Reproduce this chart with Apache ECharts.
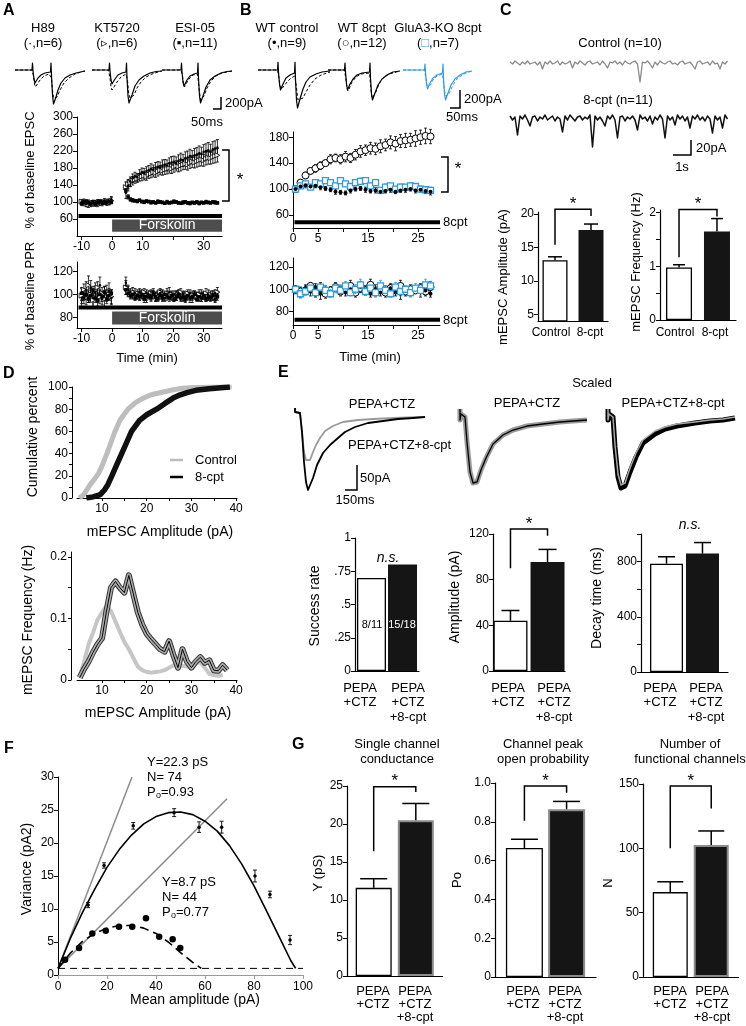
<!DOCTYPE html>
<html><head><meta charset="utf-8">
<script src="https://cdn.jsdelivr.net/npm/echarts@6.0.0/dist/echarts.min.js"></script>
<style>html,body{margin:0;padding:0;background:#fff;}#chart{width:746px;height:1026px;}</style>
</head><body><div id="chart"></div>
<script>
// ================= DATA =================
// ---- Panel A: paired-pulse traces (x: ms-like px units, y: pA-like units) ----
const traceA1Solid = [[0,0],[17,0],[17.5,7],[18,-1],[19,-9],[20,-13],[21,-12],[23,-8],[26,-5],[30,-3],[35.5,-2],[36,7],[36.5,-6],[37.5,-25],[38.5,-34],[39.5,-33],[41,-27],[43,-20],[46,-13],[50,-8],[55,-5],[61,-3],[70,-1]];
const traceA1Dash  = [[0,0],[17,0],[18.5,-6],[19.5,-14],[20.5,-17],[22,-15],[25,-10],[29,-6],[34,-4],[36.5,-8],[37.5,-20],[38.5,-28],[40,-30],[42,-27],[45,-20],[49,-13],[54,-8],[60,-4],[66,-2],[70,-1]];
const traceA2Solid = [[0,0],[17,0],[17.5,7],[18,-1],[19,-10],[20,-14],[21,-13],[23,-9],[26,-5],[30,-3],[34,-2],[34.5,7],[35,-8],[36,-26],[37,-33],[38,-32],[40,-25],[43,-16],[47,-10],[52,-6],[58,-3],[64,-1.5],[70,-1]];
const traceA2Dash  = [[0,0],[16.5,0],[18,-8],[19,-17],[20,-20],[22,-17],[25,-12],[29,-7],[34,-4],[35.5,-10],[36.5,-22],[38,-28],[40,-29],[42,-25],[45,-18],[49,-12],[54,-7],[60,-4],[66,-2],[70,-1]];
const traceA3Solid = [[0,0],[19,0],[19.5,7],[20,-2],[21,-12],[22,-16],[23,-15],[25,-10],[28,-6],[32,-4],[35.5,-3],[36,7],[36.5,-8],[37.5,-26],[38.5,-33],[39.5,-32],[41,-26],[44,-17],[48,-10],[53,-6],[59,-3],[65,-1.5],[70,-1]];
const traceA3Dash  = [[0,0],[19,0],[20.5,-6],[21.5,-14],[22.5,-17],[24,-14],[27,-9],[31,-5],[35.5,-4],[37,-18],[38.5,-30],[40,-31],[42,-26],[45,-18],[49,-11],[54,-6],[60,-3],[70,-1]];
// ---- Panel A: time course ----
const timeA = [-10,-9.25,-8.5,-7.75,-7,-6.25,-5.5,-4.75,-4,-3.25,-2.5,-1.75,-1,-0.25,
  4.5,5.25,6,6.75,7.5,8.25,9,9.75,10.5,11.25,12,12.75,13.5,14.25,15,15.75,16.5,17.25,18,18.75,19.5,20.25,21,21.75,22.5,23.25,24,24.75,25.5,26.25,27,27.75,28.5,29.25,30,30.75,31.5,32.25,33,33.75,34.5];
const epscH89 = [98,102,96,100,95,99,97,101,98,100,102,97,100,106, 122,138,148,156,160,158,166,170,168,173,175,178,176,181,183,182,186,188,186,191,193,195,192,197,200,198,203,205,208,206,210,212,215,213,218,220,222,219,224,226,228];
const epscH89Err = [6,5,7,5,6,5,6,5,6,5,6,5,6,7, 14,12,11,10,10,9,10,10,11,10,11,12,11,12,12,12,13,12,13,13,14,13,14,14,15,14,15,15,16,15,16,16,17,16,17,17,18,17,18,18,19];
const epscKT = [101,97,100,94,98,96,99,95,100,97,99,101,98,103, 135,142,146,150,153,155,158,160,162,160,165,167,170,168,172,175,173,176,178,180,178,182,185,183,186,188,190,188,192,195,193,196,198,200,198,202,204,203,206,208,210];
const epscKTErr = [5,6,5,7,5,6,5,6,5,6,5,6,5,7, 12,11,10,10,9,9,9,10,10,9,10,10,11,10,11,11,10,11,12,12,11,12,12,12,13,12,13,13,13,14,13,14,14,15,14,15,15,14,15,16,16];
const epscESI = [97,99,101,98,96,100,95,98,101,97,100,99,102,100, 128,112,106,104,103,102,104,101,100,102,101,99,100,98,101,100,99,97,100,98,99,101,100,98,97,99,100,98,97,99,98,100,97,99,98,100,99,98,100,99,98];
const epscESIErr = [4,3,4,3,4,3,4,3,4,3,4,3,4,4, 6,5,4,4,3,4,3,3,4,3,3,4,3,3,4,3,3,3,4,3,3,4,3,3,3,4,3,3,4,3,3,3,4,3,3,4,3,3,3,4,3];
const pprH89 = [95,100,104,98,106,97,102,99,108,96,101,99,103,97, 110,104,102,100,101,99,102,100,98,101,100,99,102,98,100,101,99,97,100,102,98,100,99,101,97,100,98,99,101,97,100,99,98,101,99,97,100,98,99,101,100];
const pprH89Err = [6,5,7,5,6,8,5,6,7,5,6,5,7,6, 5,4,3,3,4,3,3,4,3,3,3,4,3,4,3,3,4,3,3,4,3,3,4,3,3,3,4,3,3,4,3,3,4,3,3,3,4,3,4,3,3];
const pprKT = [99,104,97,108,100,95,103,106,98,101,96,102,100,98, 106,103,100,102,98,101,99,100,102,97,99,101,100,98,99,102,100,98,101,99,100,97,99,100,102,98,99,101,97,100,99,98,100,97,99,101,98,100,99,97,102];
const pprKTErr = [7,5,6,8,5,6,7,5,6,5,7,6,5,6, 6,4,3,4,3,3,4,3,3,4,3,3,3,4,3,3,4,3,4,3,3,3,4,3,3,4,3,3,4,3,3,3,4,3,3,4,3,3,4,3,4];
const pprESI = [101,97,100,96,99,103,97,95,100,98,102,96,99,101, 104,101,99,100,97,99,98,100,96,98,99,97,100,98,96,99,97,100,98,97,99,96,98,100,97,98,96,99,97,98,100,96,98,97,99,96,98,97,99,96,98];
const pprESIErr = [4,5,4,3,5,4,4,5,3,4,5,4,4,3, 4,3,3,3,2,3,3,2,3,3,2,3,3,3,2,3,3,2,3,3,3,2,3,3,2,3,3,3,2,3,3,2,3,3,3,2,3,3,2,3,3];
const perfusionA = [-11, 36];     // black bar (min)
const forskolinA = [0, 36];       // forskolin application (min)

// ---- Panel B ----
const traceB1Solid = [[0,0],[19.5,0],[20,8],[20.5,-2],[21.5,-14],[22.5,-20],[23.5,-19],[25,-14],[28,-8],[32,-5],[36.5,-3],[37,8],[37.5,-10],[38.5,-30],[39.5,-38],[40.5,-36],[42,-29],[45,-19],[48,-12],[52,-7],[58,-4],[64,-2],[72,-1]];
const traceB1Dash  = [[0,0],[19.5,0],[21,-8],[22,-16],[23.5,-19],[26,-16],[29,-12],[33,-8],[37,-6],[38.5,-18],[40,-30],[42,-32],[45,-28],[48,-22],[52,-15],[57,-9],[63,-5],[72,-2]];
const traceB2Solid = [[0,0],[16.5,0],[17,7],[17.5,-2],[18.5,-14],[19.5,-20],[20.5,-19],[22,-14],[25,-9],[29,-5],[34,-3],[41.5,-2],[42,7],[42.5,-8],[43.5,-24],[44.5,-30],[45.5,-29],[47,-23],[50,-15],[54,-9],[59,-5],[65,-2],[72,-1]];
const traceB2Dash  = [[0,0],[16.5,0],[18,-10],[19,-18],[20,-21],[21.5,-18],[24,-12],[28,-7],[33,-4],[41.5,-3],[43,-20],[44,-28],[45.5,-29],[47.5,-23],[51,-14],[55,-8],[61,-4],[72,-1]];
const traceB3Solid = [[0,0],[21.5,0],[22,6],[22.5,-2],[23.5,-13],[24.5,-19],[25.5,-18],[27,-13],[30,-8],[34,-5],[39.5,-3],[40,6],[40.5,-8],[41.5,-24],[42.5,-30],[43.5,-29],[45,-23],[48,-15],[52,-9],[57,-5],[63,-2],[69,-1]];
const traceB3Dash  = [[0,0],[21.5,0],[23,-9],[24,-16],[25.5,-18],[27.5,-15],[30,-10],[34,-6],[39.5,-4],[41,-17],[42.5,-26],[44,-28],[46,-24],[49,-17],[53,-10],[58,-6],[63,-3],[69,-1]];
const timeB = [0.5,1.5,2.5,3.5,4.5,5.5,6.5,7.5,8.5,9.5,10.5,11.5,12.5,13.5,14.5,15.5,16.5,17.5,18.5,19.5,20.5,21.5,22.5,23.5,24.5,25.5,26.5,27.5];
const epscWT = [100,104,106,104,105,103,101,99,96,95,94,98,100,101,99,97,98,96,97,99,96,98,99,100,98,99,97,96];
const epscWTErr = [2,3,4,3,3,4,3,3,4,3,3,4,3,3,4,3,4,3,3,4,3,3,4,3,4,3,4,5];
const epscWT8 = [100,110,121,128,132,136,140,146,148,146,150,148,153,158,160,163,162,166,168,172,170,174,175,176,178,180,182,181];
const epscWT8Err = [3,4,5,5,6,6,5,7,6,7,8,7,8,9,8,9,9,10,9,10,11,10,11,10,12,11,12,11];
const epscKO = [100,105,108,103,110,108,113,110,105,113,108,104,110,112,113,105,110,98,103,105,100,103,103,105,104,100,99,98];
const epscKOErr = [3,3,4,3,4,4,3,4,3,4,4,3,4,5,4,4,5,4,5,4,4,5,4,5,4,5,5,5];
const pprWT = [99,97,101,98,102,96,100,98,101,99,97,100,98,102,99,96,100,97,99,101,98,96,99,98,100,97,99,96];
const pprWTErr = [3,4,3,4,3,5,3,4,3,4,3,4,3,5,4,3,4,3,4,3,4,5,3,4,3,4,4,3];
const pprWT8 = [100,98,99,103,97,101,96,99,102,98,100,103,97,101,99,104,98,100,97,101,99,103,98,100,99,101,98,102];
const pprWT8Err = [3,4,4,3,4,5,4,3,4,4,3,5,4,3,4,5,4,3,4,4,3,5,4,4,3,4,4,5];
const pprKO = [100,96,98,101,97,102,99,96,101,99,103,97,100,104,98,101,97,103,99,96,102,98,100,97,101,99,104,103];
const pprKOErr = [3,4,3,4,4,3,4,3,4,5,4,3,4,5,3,4,4,5,4,3,4,4,3,4,4,5,5,4];
const perfusionB = [0.3, 29.4];

// ---- Panel C ----
const mepscControl = [1,-1,2,0,-2,1,-1,2,-1,0, 1,-2,1,-6,1,-1,2,-1,0,2, -2,1,-1,0,2,-5,1,-1,2,0, -2,1,2,-1,0,1,-2,2,-1,-5, 1,0,2,-1,1,-2,2,0,-1,1, 2,-1,-19,1,0,2,-1,-5,1,-2, 2,0,-1,1,2,-1,0,-2,1,2, -1,0,1,-2,-6,1,2,-1,0,1, -2,2,-1,0,-6,1,-1,2];
const mepsc8cpt = [2,-2,1,-17,2,-1,3,-2,-8,1, 2,-3,1,-1,3,-2,0,2,-3,1, -1,-14,2,-2,3,0,-3,1,2,-2, 1,-1,3,-29,2,-2,1,-3,-8,2, -1,3,-2,-20,1,2,-3,1,-1,2, -2,-12,3,-1,1,-3,2,-6,1,-2, 3,-1,-20,2,-2,1,-7,3,-1,2, -3,1,-10,2,-1,3,-2,1,-3,2, -1,-15,2,-2,1,-10,3,-1];
const cGroups = ['Control','8-cpt'];
const cAmp = [13.1, 17.6], cAmpErr = [0.5, 0.9], cAmpSig = [15.4, 20.7, 19.7];
const cFreq = [0.98, 1.65], cFreqErr = [0.05, 0.24], cFreqSig = [1.17, 2.06, 1.93];

// ---- Panel D ----
const cumControl = [[4.9,0],[5.9,3],[6.7,8],[7.5,13],[8.3,17],[9.2,22],[10,29],[11.1,40],[12,50],[12.9,60],[14,70],[15.8,80],[17.5,86],[19.2,90],[21,93],[23.7,95.5],[26,97.5],[28,98.8],[30.4,99.6],[35,100],[39,100]];
const cum8cpt = [[6.5,0],[8,1],[9.6,3],[10.5,7],[11.3,12],[12.2,20],[13.3,30],[14.4,40],[15.5,50],[16.6,60],[18.4,70],[20,75],[22.2,80],[24,85],[25.9,90],[27.5,93],[29,95],[31,97],[34,98.5],[38.6,100]];
const histAmpControl = [5,6,7,8,9,10,11,12,13,14,15,16,17,18,19,20,21,22,23,24,25,26,27,28,29,30,31,32,33,34,35,36,37];
const histControl = [0.005,0.03,0.058,0.077,0.098,0.11,0.12,0.112,0.095,0.078,0.062,0.05,0.036,0.022,0.016,0.013,0.012,0.013,0.014,0.016,0.02,0.024,0.024,0.023,0.022,0.024,0.027,0.029,0.02,0.01,0.008,0.007,0.008];
const histAmp8cpt = [5,6,7,8,9,10,11,12,13,14,15,16,17,18,19,20,21,22,23,24,25,26,27,28,29,30,31,32,33,34,35,36,37,38];
const hist8cpt = [0.004,0.018,0.03,0.045,0.058,0.068,0.112,0.15,0.16,0.15,0.142,0.17,0.14,0.11,0.09,0.075,0.066,0.058,0.05,0.046,0.063,0.04,0.02,0.05,0.03,0.02,0.03,0.037,0.028,0.032,0.016,0.015,0.024,0.016];

// ---- Panel E ----
const traceE1Black = [[2,4],[2,0],[7,-1],[9,-20],[11,-50],[13,-70],[15,-78],[17,-76],[20,-66],[24,-53],[30,-41],[37,-33],[45,-26],[52,-20],[62,-15],[75,-11],[90,-9],[105,-7],[120,-6],[132,-5]];
const traceE1Gray  = [[2,4],[2,0],[7,-1],[9,-20],[11,-40],[13,-48],[15,-50],[17,-48],[20,-40],[23,-33],[27,-26],[32,-19],[40,-14],[50,-10],[65,-8],[80,-7],[100,-6],[130,-5]];
const traceE2 = [[2,3],[2,-8],[3,-2],[7,-5],[9,-30],[12,-60],[15,-71],[17,-73],[19,-70],[23,-58],[28,-46],[35,-32],[45,-23],[55,-18],[69,-14],[85,-12],[102,-10],[115,-9],[129,-8]];
const traceE3Black = [[3,3],[3,-8],[4,-2],[8,-5],[10,-35],[13,-65],[16,-76],[18,-78],[20,-74],[25,-60],[31,-45],[38,-31],[50,-22],[60,-17],[72,-14],[90,-11],[105,-9],[118,-8],[130,-6]];
const traceE3Gray  = [[3,3],[3,-8],[4,-2],[8,-5],[10,-33],[13,-62],[16,-73],[18,-75],[20,-71],[25,-56],[31,-41],[38,-28],[50,-19],[60,-15],[72,-12],[90,-10],[105,-8],[118,-7],[130,-5]];
const eGroups = ['PEPA\n+CTZ','PEPA\n+CTZ\n+8-cpt'];
const eSuccess = [0.70, 0.80], eSuccessText = ['8/11','15/18'];
const eAmp = [44, 95.5], eAmpErr = [9, 11], eAmpSig = [90, 124.4, 118.5];
const eDecay = [785, 858], eDecayErr = [50, 80];

// ---- Panel F ----
const fLineSteep = [[0,1],[30.2,30]];
const fLineShallow = [[0,1],[69,26.7]];
const fFitHigh = [[0,1],[5,5.5],[10,9.5],[15,13],[20,16.3],[25,19],[30,21.2],[35,22.9],[40,24],[45,24.6],[50,24.7],[55,24.3],[60,23.3],[65,21.8],[70,19.6],[75,16.8],[80,13.5],[85,9.8],[90,6],[95,2.2],[97,1]];
const fFitLow = [[0,1],[5,3.3],[10,5.1],[15,6.3],[20,7.1],[25,7.5],[30,7.5],[35,7.1],[40,6.3],[45,5],[50,3.4],[55,1.9],[58.5,1]];
const fBaseline = [[0,1],[100,1]];
const fPointsHigh = [[12.3,10.6,0.4],[18.8,16.6,0.4],[30.7,22.6,0.5],[47.4,24.6,0.6],[57.6,22.4,0.8],[66.8,22.4,0.9],[80.4,15.0,0.9],[86.5,12.2,0.5],[94.7,5.3,0.7]];
const fPointsLow = [[2.9,2.3],[8.6,4.1],[14,6.3],[19.5,6.7],[24.9,7.3],[30.3,7.3],[35.9,8.6],[41.3,5.8],[46.8,5.4],[49.9,4.1]];

// ---- Panel G ----
const gCond = [11.6, 20.5], gCondErr = [1.2, 2.2], gCondSig = [16.4, 24.9, 24.2];
const gPo = [0.665, 0.865], gPoErr = [0.045, 0.04], gPoSig = [0.805, 0.985, 0.95];
const gN = [66, 102.5], gNErr = [8, 11], gNSig = [100, 148.5, 131];

// ================= BUILD =================
const FONT = '"Liberation Sans", Arial, Helvetica, sans-serif';
const BLUE = '#2f9be0';
const grids = [], xAxes = [], yAxes = [], series = [], gfx = [];
function addGrid(g, xa, ya){ const gi = grids.length; grids.push(Object.assign({show:false}, g)); xa.gridIndex = gi; ya.gridIndex = gi; xAxes.push(xa); yAxes.push(ya); return gi; }
function S(gi, o){ o.xAxisIndex = gi; o.yAxisIndex = gi; o.silent = true; o.animation = false; series.push(o); return o; }
function vAxis(min, max, ticks, labels, o){
  o = o || {};
  const a = {type:'value', min:min, max:max, offset:o.offset||0,
    axisLine:{show:true, onZero:false, lineStyle:{color:o.lineColor||'#000', width:o.lw||1}},
    axisTick:{show:true, inside:false, length:o.tl||4, customValues:ticks, lineStyle:{color:o.lineColor||'#000', width:1}},
    axisLabel:{show:true, customValues:labels, color:'#000', fontSize:o.fs||12, fontFamily:FONT, margin:o.margin||4},
    splitLine:{show:false}};
  if (o.fmt) a.axisLabel.formatter = o.fmt;
  return a;
}
function hAxis(min, max){ return {type:'value', min:min, max:max, show:false, splitLine:{show:false}}; }
function line(gi, data, color, w, type, z){ return S(gi, {type:'line', data:data, symbol:'none', z:z||2, clip:true, lineStyle:{color:color, width:w, type:type||'solid', join:'round'}}); }
function zip(t, v, e){ const out = []; for (let i = 0; i < t.length; i++){ if (v[i] == null) continue; out.push([t[i], v[i], e ? (e[i]||0) : 0]); } return out; }
function errSeries(gi, pts, color, cap, lw){
  return S(gi, {type:'custom', clip:false, z:2, data:pts, renderItem:function(p, api){
    const x = api.value(0), y = api.value(1), e = api.value(2);
    const a = api.coord([x, y+e]), b = api.coord([x, y-e]);
    const st = {stroke:color, lineWidth:lw||0.8};
    return {type:'group', children:[
      {type:'line', shape:{x1:a[0], y1:a[1], x2:b[0], y2:b[1]}, style:st},
      {type:'line', shape:{x1:a[0]-cap, y1:a[1], x2:a[0]+cap, y2:a[1]}, style:st},
      {type:'line', shape:{x1:b[0]-cap, y1:b[1], x2:b[0]+cap, y2:b[1]}, style:st}]};
  }});
}
function scat(gi, pts, sym, size, fill, stroke, bw, rot){
  return S(gi, {type:'scatter', z:3, data:pts.map(p => [p[0], p[1]]), symbol:sym, symbolSize:size, symbolRotate:rot||0,
    itemStyle:{color:fill, borderColor:stroke||fill, borderWidth:bw||0, opacity:1}});
}
function T(x, y, text, o){
  o = o || {};
  const el = {type:'text', x:x, y:y, rotation:o.rot||0, silent:true, z:100,
    style:{text:text, fill:o.color||'#000', font:(o.style||'normal')+' '+(o.weight||'normal')+' '+(o.size||13)+'px '+FONT,
      align:o.align||'center', verticalAlign:o.va||'middle'}};
  if (o.lh) el.style.lineHeight = o.lh;
  if (o.rich) el.style.rich = o.rich;
  gfx.push(el); return el;
}
function PL(points, o){ o = o || {}; gfx.push({type:'polyline', silent:true, z:100, shape:{points:points}, style:{stroke:o.color||'#000', lineWidth:o.w||1.5, fill:null}}); }
const ROT = Math.PI/2;

// ---------- Panel A ----------
[[15, traceA1Solid, traceA1Dash],[92, traceA2Solid, traceA2Dash],[162, traceA3Solid, traceA3Dash]].forEach(function(d){
  const gi = addGrid({left:d[0], top:62, width:70, height:48}, hAxis(0,70), hAxis(-40,8));
  line(gi, d[2], '#000', 1, [3,2]);
  line(gi, d[1], '#000', 1.2);
});
const gA1 = addGrid({left:77, top:117, width:145, height:119},
  vAxis(-11.5, 36, [-10,0,10,20,30], [-10,0,10,30], {margin:5}),
  vAxis(20, 300, [60,100,140,180,220,260,300], [60,100,140,180,220,260,300]));
S(gA1, {type:'line', data:perfusionA.map(t => [t, 67]), symbol:'none', z:1, lineStyle:{color:'#000', width:4},
  markArea:{silent:true, itemStyle:{color:'#4d4d4d'}, label:{show:true, position:'inside', color:'#fff', fontSize:14, fontFamily:FONT},
    data:[[{name:'Forskolin', coord:[forskolinA[0], 30]}, {coord:[forskolinA[1], 59]}]]}});
errSeries(gA1, zip(timeA, epscKT, epscKTErr), '#000', 1.5);
errSeries(gA1, zip(timeA, epscH89, epscH89Err), '#000', 1.5);
errSeries(gA1, zip(timeA, epscESI, epscESIErr), '#000', 1.5);
scat(gA1, zip(timeA, epscKT), 'triangle', 5, '#fff', '#000', 0.8, -90);
scat(gA1, zip(timeA, epscH89), 'circle', 2.5, '#000');
scat(gA1, zip(timeA, epscESI), 'rect', 3.5, '#000');

const gA2 = addGrid({left:77, top:262, width:145, height:66},
  vAxis(-11.5, 36, [-10,0,10,20,30], [-10,0,10,20,30], {margin:5}),
  vAxis(71, 128, [80,100,120], [80,100,120]));
S(gA2, {type:'line', data:perfusionA.map(t => [t, 88.6]), symbol:'none', z:1, lineStyle:{color:'#000', width:4},
  markArea:{silent:true, itemStyle:{color:'#4d4d4d'}, label:{show:true, position:'inside', color:'#fff', fontSize:14, fontFamily:FONT},
    data:[[{name:'Forskolin', coord:[forskolinA[0], 74]}, {coord:[forskolinA[1], 85.3]}]]}});
errSeries(gA2, zip(timeA, pprKT, pprKTErr), '#000', 1.5);
errSeries(gA2, zip(timeA, pprH89, pprH89Err), '#000', 1.5);
errSeries(gA2, zip(timeA, pprESI, pprESIErr), '#000', 1.5);
scat(gA2, zip(timeA, pprKT), 'triangle', 5, '#fff', '#000', 0.8, -90);
scat(gA2, zip(timeA, pprH89), 'circle', 2.5, '#000');
scat(gA2, zip(timeA, pprESI), 'rect', 3.5, '#000');

T(3, 3, 'A', {size:16, weight:'bold', align:'left', va:'top'});
T(43, 28, 'H89'); T(43, 43, '(·,n=6)');
T(117, 28, 'KT5720'); T(117, 43, '(▹,n=6)');
T(195, 28, 'ESI-05'); T(195, 43, '(▪,n=11)');
PL([[221,97],[221,109],[213,109]]);
T(225, 103, '200pA', {align:'left'}); T(207, 122, '50ms');
T(30, 170, '% of baseline EPSC', {rot:ROT});
T(30, 296, '% of baseline PPR', {rot:ROT});
PL([[222,150],[229,150],[229,201],[222,201]]);
T(240, 180, '*', {size:17});
T(147, 358, 'Time (min)');

// ---------- Panel B ----------
[[258, traceB1Solid, traceB1Dash, '#000'],[328, traceB2Solid, traceB2Dash, '#000'],[403, traceB3Solid, traceB3Dash, BLUE]].forEach(function(d){
  const gi = addGrid({left:d[0], top:62, width:72, height:48}, hAxis(0,72), hAxis(-40,8));
  line(gi, d[2], d[3], 1, [3,2]);
  line(gi, d[1], d[3], 1.2);
});
const gB1 = addGrid({left:293, top:132, width:147, height:96},
  vAxis(0, 29.4, [0,5,10,15,20,25], [0,5,15,25], {margin:5}),
  vAxis(40, 188, [60,100,140,180], [60,100,140,180]));
line(gB1, perfusionB.map(t => [t, 49]), '#000', 4, 'solid', 1);
errSeries(gB1, zip(timeB, epscWT8, epscWT8Err), '#000', 1.5);
errSeries(gB1, zip(timeB, epscKO, epscKOErr), BLUE, 1.5);
errSeries(gB1, zip(timeB, epscWT, epscWTErr), '#000', 1.5);
scat(gB1, zip(timeB, epscWT8), 'circle', 7, '#fff', '#000', 1);
scat(gB1, zip(timeB, epscKO), 'rect', 6, '#fff', BLUE, 1.3);
scat(gB1, zip(timeB, epscWT), 'circle', 4, '#000');

const gB2 = addGrid({left:293, top:258, width:147, height:67},
  vAxis(0, 29.4, [0,5,10,15,20,25], [0,5,15,25], {margin:5}),
  vAxis(68, 128, [80,100,120], [80,100,120]));
line(gB2, perfusionB.map(t => [t, 72.7]), '#000', 4, 'solid', 1);
errSeries(gB2, zip(timeB, pprWT8, pprWT8Err), '#000', 1.5);
errSeries(gB2, zip(timeB, pprWT, pprWTErr), '#000', 1.5);
errSeries(gB2, zip(timeB, pprKO, pprKOErr), BLUE, 1.5);
scat(gB2, zip(timeB, pprWT8), 'circle', 7, '#fff', '#000', 1);
scat(gB2, zip(timeB, pprWT), 'circle', 4, '#000');
scat(gB2, zip(timeB, pprKO), 'rect', 6, '#fff', BLUE, 1.3);

T(240, 3, 'B', {size:16, weight:'bold', align:'left', va:'top'});
T(287, 28, 'WT control'); T(287, 43, '(•,n=9)');
T(362, 28, 'WT 8cpt'); T(362, 43, '(○,n=12)');
T(438, 28, 'GluA3-KO 8cpt'); T(438, 43, '({b|□},n=7)', {rich:{b:{fill:BLUE, fontSize:13, fontFamily:FONT}}});
PL([[460,90],[460,108],[450,108]]);
T(464, 99, '200pA', {align:'left'}); T(462, 117, '50ms');
PL([[441,157],[448,157],[448,192],[441,192]]);
T(458, 169, '*', {size:17});
T(443, 222, '8cpt', {align:'left'}); T(443, 320, '8cpt', {align:'left'});
T(370, 357, 'Time (min)');

// ---------- Panel C ----------
const gC1 = addGrid({left:510, top:57, width:220, height:28}, hAxis(0,220), hAxis(-22,6));
line(gC1, mepscControl.map((v,i) => [i*2.5, v]), '#8a8a8a', 1.3);
const gC2 = addGrid({left:510, top:112, width:220, height:38}, hAxis(0,220), hAxis(-32,6));
line(gC2, mepsc8cpt.map((v,i) => [i*2.5, v]), '#111', 1.5);

function barChart(c){
  const gi = addGrid({left:c.left, top:c.top, width:c.width, height:c.height},
    {type:'category', data:['g'], axisLine:{show:true, onZero:false, lineStyle:{color:'#000', width:1.2}}, axisTick:{show:false}, axisLabel:{show:false}, splitLine:{show:false}},
    vAxis(c.min, c.max, c.ticks, c.labels, {fmt:c.fmt, lw:1.2}));
  const off = c.bw*(1 + c.gap/100)/2;
  S(gi, {type:'bar', data:[c.vals[0]], barWidth:c.bw, barGap:c.gap+'%', z:2, itemStyle:{color:'#fff', borderColor:'#000', borderWidth:1.3}});
  S(gi, {type:'bar', data:[c.vals[1]], barWidth:c.bw, barGap:c.gap+'%', z:2, itemStyle:{color:'#151515', borderColor:c.blackBorder||'#151515', borderWidth:c.blackBorder?2:0}});
  if (c.errs){
    S(gi, {type:'custom', clip:false, z:3, data:c.vals.map((v,i) => [0, v, c.errs[i]]), renderItem:function(p, api){
      const v = api.value(1), e = api.value(2);
      const a = api.coord([0, v]), b = api.coord([0, v+e]);
      const x = a[0] + (p.dataIndex === 0 ? -off : off);
      const st = {stroke:'#000', lineWidth:1.5};
      return {type:'group', children:[
        {type:'line', shape:{x1:x, y1:a[1], x2:x, y2:b[1]}, style:st},
        {type:'line', shape:{x1:x-c.cap/2, y1:b[1], x2:x+c.cap/2, y2:b[1]}, style:st}]};
    }});
  }
  if (c.sig){
    S(gi, {type:'custom', clip:false, z:3, data:[[0, c.sig[0], c.sig[1], c.sig[2]]], renderItem:function(p, api){
      const l = api.coord([0, api.value(1)]), t = api.coord([0, api.value(2)]), r = api.coord([0, api.value(3)]);
      const xl = t[0] - off, xr = t[0] + off;
      return {type:'group', children:[
        {type:'polyline', shape:{points:[[xl,l[1]],[xl,t[1]],[xr,t[1]],[xr,r[1]]]}, style:{stroke:'#000', lineWidth:1.5, fill:null}},
        {type:'text', style:{text:'*', x:(xl+xr)/2, y:t[1]-5, font:'17px '+FONT, align:'center', verticalAlign:'middle', fill:'#000'}}]};
    }});
  }
  c.groups.forEach(function(g, i){ T(c.labX[i], c.labY, g, {va:'top', lh:c.lh||14, size:c.labSize||13}); });
  return gi;
}
barChart({left:538, top:212, width:70, height:109, min:4, max:20.3, ticks:[5,10,15,20], labels:[5,10,15,20],
  vals:cAmp, errs:cAmpErr, sig:cAmpSig, bw:25, gap:44, cap:14, groups:cGroups, labX:[551,590], labY:326, labSize:12});
barChart({left:660, top:210, width:76, height:110, min:0, max:2.05, ticks:[0,0.5,1,1.5,2], labels:[0,1,2],
  vals:cFreq, errs:cFreqErr, sig:cFreqSig, bw:26, gap:46, cap:12, groups:cGroups, labX:[675,715], labY:326, labSize:12});
T(500, 3, 'C', {size:16, weight:'bold', align:'left', va:'top'});
T(620, 43, 'Control (n=10)'); T(618, 100, '8-cpt (n=11)');
PL([[691,140],[691,155],[673,155]]);
T(696, 148, '20pA', {align:'left'}); T(682, 167, '1s');
T(503, 277, 'mEPSC Amplitude (pA)', {rot:ROT});
T(636, 262, 'mEPSC Frequency (Hz)', {rot:ROT});

// ---------- Panel D ----------
const gD1 = addGrid({left:77, top:387, width:160, height:111},
  vAxis(4.4, 40.2, [10,15,20,25,30,35,40], [10,20,30,40], {margin:5, tl:3}),
  vAxis(0, 100, [0,10,20,30,40,50,60,70,80,90,100], [0,20,40,60,80,100], {offset:5, tl:3}));
line(gD1, cumControl, '#bdbdbd', 5);
line(gD1, cum8cpt, '#111', 5.5);
const gD2 = addGrid({left:77, top:552, width:160, height:128},
  vAxis(4.4, 40.2, [10,15,20,25,30,35,40], [10,20,30,40], {margin:5, tl:3}),
  vAxis(0, 0.208, [0,0.05,0.1,0.15,0.2], [0,0.1,0.2], {offset:6, tl:3}));
line(gD2, zip(histAmpControl, histControl).map(p => [p[0], p[1]]), '#c6c6c6', 4);
line(gD2, zip(histAmp8cpt, hist8cpt).map(p => [p[0], p[1]]), '#333', 6);
line(gD2, zip(histAmp8cpt, hist8cpt).map(p => [p[0], p[1]]), '#acacac', 4);
line(gD2, zip(histAmp8cpt, hist8cpt).map(p => [p[0], p[1]]), '#000', 1);
T(3, 366, 'D', {size:16, weight:'bold', align:'left', va:'top'});
T(33, 437, 'Cumulative percent', {rot:ROT, size:14});
T(160, 532, 'mEPSC Amplitude (pA)', {size:14});
PL([[170,460],[183,460]], {color:'#bdbdbd', w:2.5}); T(195, 460, 'Control', {align:'left'});
PL([[170,477],[183,477]], {w:2.5}); T(195, 477, '8-cpt', {align:'left'});
T(28, 620, 'mEPSC Frequency (Hz)', {rot:ROT, size:14});
T(158, 713, 'mEPSC Amplitude (pA)', {size:14});

// ---------- Panel E ----------
const gE1 = addGrid({left:293, top:405, width:135, height:90}, hAxis(0,135), hAxis(-83,7));
line(gE1, traceE1Gray, '#9a9a9a', 1.8);
line(gE1, traceE1Black, '#000', 1.8);
const gE2 = addGrid({left:458, top:405, width:135, height:90}, hAxis(0,135), hAxis(-83,7));
line(gE2, traceE2, '#9a9a9a', 5);
line(gE2, traceE2, '#000', 1.3);
const gE3 = addGrid({left:605, top:405, width:135, height:90}, hAxis(0,135), hAxis(-83,7));
line(gE3, traceE3Black, '#000', 5);
line(gE3, traceE3Gray, '#a8a8a8', 1.5);

barChart({left:355, top:538, width:64, height:133, min:0, max:1, ticks:[0,0.25,0.5,0.75,1], labels:[0,0.25,0.5,0.75,1],
  fmt:function(v){ return (v === 0 || v === 1) ? String(v) : String(v).replace('0.', '.'); },
  vals:eSuccess, bw:29, gap:7, cap:14, groups:eGroups, labX:[360,408], labY:681, lh:14.5});
barChart({left:493, top:534, width:72, height:137, min:0, max:120, ticks:[0,40,80,120], labels:[0,40,80,120],
  vals:eAmp, errs:eAmpErr, sig:eAmpSig, bw:34, gap:9, cap:18, groups:eGroups, labX:[508,554], labY:681, lh:14.5});
barChart({left:641, top:534, width:87, height:138, min:0, max:1000, ticks:[0,200,400,600,800,1000], labels:[0,400,800],
  vals:eDecay, errs:eDecayErr, bw:33, gap:9, cap:17, groups:eGroups, labX:[660,706], labY:681, lh:14.5});
T(278, 365, 'E', {size:16, weight:'bold', align:'left', va:'top'});
T(592, 383, 'Scaled');
T(382, 404, 'PEPA+CTZ'); T(527, 403, 'PEPA+CTZ'); T(673, 403, 'PEPA+CTZ+8-cpt');
T(348, 445, 'PEPA+CTZ+8-cpt', {align:'left'});
PL([[357,465],[357,490],[345,490]]);
T(360, 478, '50pA', {align:'left'}); T(355, 500, '150ms');
T(315, 606, 'Success rate', {rot:ROT, size:14});
T(455, 597, 'Amplitude (pA)', {rot:ROT, size:14});
T(597, 598, 'Decay time (ms)', {rot:ROT, size:14});
T(388, 558, 'n.s.', {style:'italic', size:14});
T(690, 525, 'n.s.', {style:'italic', size:14});
T(372, 625, eSuccessText[0], {size:11});
T(402, 625, eSuccessText[1], {size:11, color:'#fff'});

// ---------- Panel F ----------
const gF = addGrid({left:58, top:777, width:245, height:198},
  vAxis(0, 100, [0,20,40,60,80,100], [0,20,40,60,80,100], {margin:6, lineColor:'#999'}),
  vAxis(0, 30, [0,5,10,15,20,25,30], [0,5,10,15,20,25,30]));
line(gF, fLineSteep, '#8c8c8c', 1.5);
line(gF, fLineShallow, '#8c8c8c', 1.5);
line(gF, fBaseline, '#000', 1, [7,5]);
line(gF, fFitHigh, '#000', 1.6);
line(gF, fFitLow, '#000', 1.6, [9,5]);
errSeries(gF, fPointsHigh, '#000', 2, 0.9);
scat(gF, fPointsHigh, 'circle', 3.5, '#000');
scat(gF, fPointsLow, 'circle', 6.5, '#000');
T(4, 741, 'F', {size:16, weight:'bold', align:'left', va:'top'});
T(27, 869, 'Variance (pA2)', {rot:ROT, size:14});
T(195, 1000, 'Mean amplitude (pA)', {size:14});
function poText(x, y, val){ T(x, y, 'P', {align:'left'}); T(x+9, y+4, 'o', {align:'left', size:9}); T(x+14, y, '=' + val, {align:'left'}); }
T(147, 762, 'Y=22.3 pS', {align:'left'}); T(147, 777, 'N= 74', {align:'left'}); poText(147, 792, '0.93');
T(162, 882, 'Y=8.7 pS', {align:'left'}); T(162, 897, 'N= 44', {align:'left'}); poText(162, 912, '0.77');

// ---------- Panel G ----------
barChart({left:347, top:786, width:95.5, height:190, min:0, max:25, ticks:[0,5,10,15,20,25], labels:[0,5,10,15,20,25],
  vals:gCond, errs:gCondErr, sig:gCondSig, bw:36, gap:17, cap:27, blackBorder:'#8c8c8c', groups:eGroups, labX:[373,415], labY:985, lh:13});
barChart({left:495, top:783, width:101, height:194, min:0, max:1, ticks:[0,0.2,0.4,0.6,0.8,1], labels:[0,0.2,0.4,0.6,0.8,1],
  fmt:function(v){ return v === 0 ? '0' : v.toFixed(1); },
  vals:gPo, errs:gPoErr, sig:gPoSig, bw:37, gap:14, cap:27, blackBorder:'#8c8c8c', groups:eGroups, labX:[523,565], labY:985, lh:13});
barChart({left:643, top:784, width:95.5, height:193, min:0, max:150, ticks:[0,50,100,150], labels:[0,50,100,150],
  vals:gN, errs:gNErr, sig:gNSig, bw:35, gap:17, cap:26, blackBorder:'#8c8c8c', groups:eGroups, labX:[670,712], labY:985, lh:13});
T(292, 737, 'G', {size:16, weight:'bold', align:'left', va:'top'});
T(397, 744, 'Single channel'); T(397, 759, 'conductance');
T(543, 744, 'Channel peak'); T(543, 759, 'open probability');
T(690, 744, 'Number of'); T(690, 759, 'functional channels');
T(318, 873, 'Y (pS)', {rot:ROT});
T(457, 880, 'Po', {rot:ROT});
T(608, 883, 'N', {rot:ROT});

// ================= RENDER =================
const chart = echarts.init(document.getElementById('chart'), null, {renderer:'canvas', width:746, height:1026});
chart.setOption({animation:false, backgroundColor:'#fff', grid:grids, xAxis:xAxes, yAxis:yAxes, series:series, graphic:{elements:gfx}});
</script>
</body></html>
